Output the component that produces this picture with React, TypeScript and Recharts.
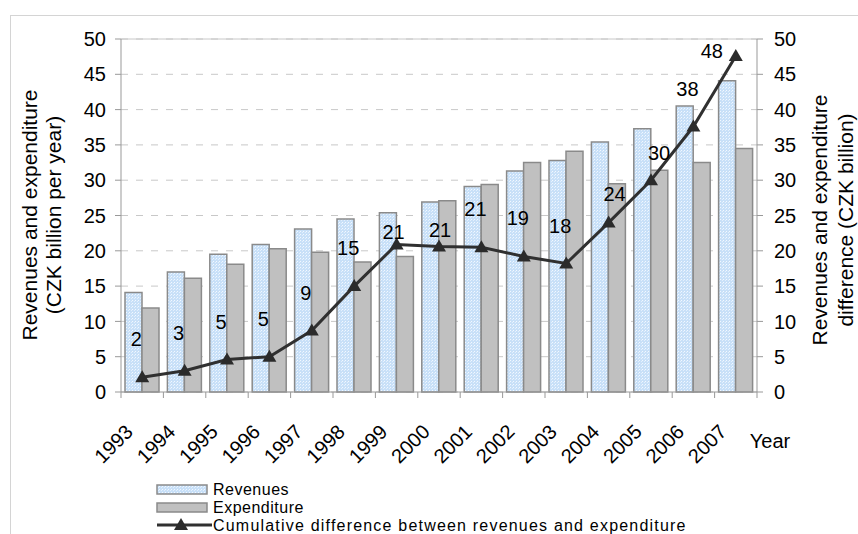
import {
  ComposedChart, Bar, Line,
  XAxis, YAxis, CartesianGrid,
  ReferenceLine, LabelList, Legend,
} from "recharts";

const years = [
  "1993", "1994", "1995", "1996", "1997", "1998", "1999", "2000",
  "2001", "2002", "2003", "2004", "2005", "2006", "2007",
];
const revenues    = [14.1, 17.0, 19.5, 20.9, 23.1, 24.5, 25.4, 26.9, 29.1, 31.3, 32.8, 35.4, 37.3, 40.5, 44.1];
const expenditure = [11.9, 16.1, 18.1, 20.3, 19.8, 18.4, 19.2, 27.1, 29.4, 32.5, 34.1, 29.5, 31.4, 32.5, 34.5];
const cumulative  = [2.1, 3.0, 4.6, 5.0, 8.7, 15.0, 20.9, 20.6, 20.5, 19.2, 18.2, 24.0, 30.0, 37.6, 47.6];
const yTicks = [0, 5, 10, 15, 20, 25, 30, 35, 40, 45, 50];

const data = years.map((year, i) => ({
  year,
  revenues: revenues[i],
  expenditure: expenditure[i],
  cumulative: cumulative[i],
}));

const FONT = "'Liberation Sans', Arial, sans-serif";
const W = 858;
const H = 534;
const PLOT_LEFT = 121;
const PLOT_RIGHT = 757;
const STEP = (PLOT_RIGHT - PLOT_LEFT) / years.length;

// label nudges (default: up-left of the marker)
const LABEL_DX = -6;
const LABEL_DY = -38;
const LABEL_NUDGE: Record<string, [number, number]> = {
  "1999": [-3, -12],
  "2000": [1, -17],
  "2004": [6, -29],
  "2005": [8, -27],
  "2007": [-24, -5],
};

function YearTick(props: any) {
  const { x, y, payload, index } = props;
  const left = x - STEP / 2;
  const last = index === years.length - 1;
  const tx = x - 8;
  const ty = y + 41;
  return (
    <g>
      <line x1={left} x2={left} y1={y} y2={y + 6} stroke="#999" />
      {last && <line x1={x + STEP / 2} x2={x + STEP / 2} y1={y} y2={y + 6} stroke="#999" />}
      <text
        x={tx} y={ty}
        transform={`rotate(-45, ${tx}, ${ty})`}
        textAnchor="end" fontSize={20} fill="#000" fontFamily={FONT}
      >{payload.value}</text>
      {last && (
        <text x={x + 14} y={y + 56} fontSize={20} fill="#000" fontFamily={FONT}>Year</text>
      )}
    </g>
  );
}

function Triangle(props: any) {
  const { cx, cy, index } = props;
  if (cx == null || cy == null) return null;
  return (
    <polygon
      key={`tri-${index}`}
      points={`${cx},${cy - 7} ${cx + 7},${cy + 5} ${cx - 7},${cy + 5}`}
      fill="#2b2b2b"
    />
  );
}

function DiffLabel(props: any) {
  const { x, y, value, index } = props;
  const [dx, dy] = LABEL_NUDGE[years[index]] ?? [LABEL_DX, LABEL_DY];
  return (
    <text
      x={x + dx} y={y + dy}
      textAnchor="middle" dominantBaseline="central"
      fontSize={20} fill="#000" fontFamily={FONT}
    >{Math.round(value)}</text>
  );
}

const leftTitle = () => (
  <g fontSize={21} fill="#000" fontFamily={FONT}>
    <text x={29} y={215} transform="rotate(-90, 29, 215)" textAnchor="middle" dominantBaseline="central">
      Revenues and expenditure
    </text>
    <text x={53} y={215} transform="rotate(-90, 53, 215)" textAnchor="middle" dominantBaseline="central">
      (CZK billion per year)
    </text>
  </g>
);

const rightTitle = () => (
  <g fontSize={21} fill="#000" fontFamily={FONT}>
    <text x={819} y={220} transform="rotate(-90, 819, 220)" textAnchor="middle" dominantBaseline="central">
      Revenues and expenditure
    </text>
    <text x={845} y={220} transform="rotate(-90, 845, 220)" textAnchor="middle" dominantBaseline="central">
      difference (CZK billion)
    </text>
  </g>
);

function LegendBox() {
  return (
    <svg width={600} height={54} style={{ display: "block", overflow: "visible" }}>
      <rect x={7} y={5} width={50} height={9} fill="url(#revDots)" stroke="#8a8a8a" strokeWidth={1.5} />
      <rect x={7} y={23} width={50} height={9} fill="#c0c0c0" stroke="#8a8a8a" strokeWidth={1.5} />
      <line x1={7} x2={62} y1={45} y2={45} stroke="#303030" strokeWidth={3} />
      <polygon points="31,38 38,50 24,50" fill="#2b2b2b" />
      <g fontSize={16} fill="#000" fontFamily={FONT} dominantBaseline="central">
        <text x={63} y={9} letterSpacing={0.5}>Revenues</text>
        <text x={63} y={27} letterSpacing={0.5}>Expenditure</text>
        <text x={63} y={45} letterSpacing={1.2}>Cumulative difference between revenues and expenditure</text>
      </g>
    </svg>
  );
}

export default function App() {
  return (
    <div style={{
      position: "fixed", left: 0, top: 0, width: W, height: H,
      background: "#fff", overflow: "hidden", fontFamily: FONT,
    }}>
      {/* outer frame */}
      <div style={{
        position: "absolute", left: 10, top: 15, width: 900, height: 600,
        border: "1px solid #d4d4d4",
      }} />
      <div style={{ position: "absolute", left: 0, top: 0 }}>
        <ComposedChart
          width={W} height={H} data={data}
          margin={{ top: 39, right: 0, bottom: 82, left: 0 }}
          barGap={0}
        >
          <defs>
            <pattern id="revDots" width={3} height={3} patternUnits="userSpaceOnUse">
              <rect width={3} height={3} fill="#c8e0f8" />
              <rect x={0} y={0} width={1} height={1} fill="#f2f8ff" />
              <rect x={2} y={1} width={1} height={1} fill="#e4f0fd" />
            </pattern>
          </defs>
          <CartesianGrid
            yAxisId="left" vertical={false}
            stroke="#c8c8c8" strokeDasharray="7 8"
          />
          <XAxis
            dataKey="year" interval={0} height={60}
            axisLine={{ stroke: "#999" }} tickLine={false}
            tickSize={0} tickMargin={0}
            tick={<YearTick />}
          />
          <YAxis
            yAxisId="left" width={121} domain={[0, 50]} ticks={yTicks}
            axisLine={{ stroke: "#999" }} tickLine={{ stroke: "#999" }}
            tickSize={6} tickMargin={9}
            tick={{ fontSize: 20, fill: "#000", fontFamily: FONT }}
            label={leftTitle}
          />
          <YAxis
            yAxisId="right" orientation="right" width={101}
            domain={[0, 50]} ticks={yTicks}
            axisLine={{ stroke: "#999" }} tickLine={{ stroke: "#999" }}
            tickSize={6} tickMargin={11}
            tick={{ fontSize: 20, fill: "#000", fontFamily: FONT }}
            label={rightTitle}
          />
          <ReferenceLine yAxisId="left" y={50} stroke="#c8c8c8" />
          <Bar
            yAxisId="left" dataKey="revenues" name="Revenues"
            barSize={17} fill="url(#revDots)"
            stroke="#8a8a8a" strokeWidth={1.5}
            isAnimationActive={false}
          />
          <Bar
            yAxisId="left" dataKey="expenditure" name="Expenditure"
            barSize={17} fill="#c0c0c0"
            stroke="#8a8a8a" strokeWidth={1.5}
            isAnimationActive={false}
          />
          <Line
            yAxisId="right" dataKey="cumulative"
            name="Cumulative difference between revenues and expenditure"
            type="linear" stroke="#303030" strokeWidth={3}
            dot={<Triangle />} activeDot={false}
            isAnimationActive={false}
          >
            <LabelList dataKey="cumulative" content={<DiffLabel />} />
          </Line>
          <Legend
            layout="vertical" align="center" verticalAlign="middle"
            wrapperStyle={{ position: "absolute", left: 150, top: 480, width: 600, height: 54 }}
            content={<LegendBox />}
          />
        </ComposedChart>
      </div>
    </div>
  );
}
